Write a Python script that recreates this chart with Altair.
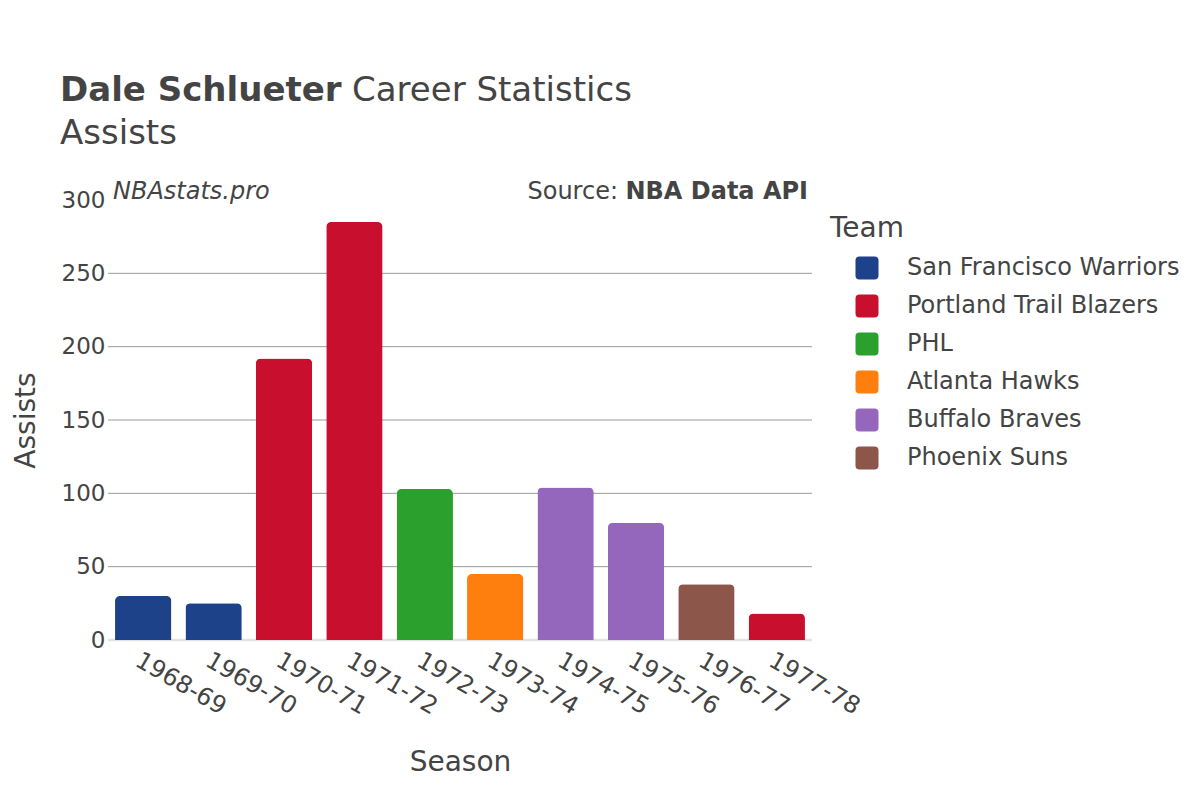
import altair as alt
import pandas as pd

seasons = ["1968-69", "1969-70", "1970-71", "1971-72", "1972-73",
           "1973-74", "1974-75", "1975-76", "1976-77", "1977-78"]
teams = ["San Francisco Warriors", "San Francisco Warriors", "Portland Trail Blazers",
         "Portland Trail Blazers", "PHL", "Atlanta Hawks", "Buffalo Braves",
         "Buffalo Braves", "Phoenix Suns", "Portland Trail Blazers"]
assists = [30, 25, 192, 285, 103, 45, 104, 80, 38, 18]

team_order = ["San Francisco Warriors", "Portland Trail Blazers", "PHL",
              "Atlanta Hawks", "Buffalo Braves", "Phoenix Suns"]
team_colors = ["#1d428a", "#c8102e", "#2ca02c", "#ff7f0e", "#9467bd", "#8c564b"]

y_ticks = [0, 50, 100, 150, 200, 250, 300]
grid_values = [50, 100, 150, 200, 250]

FONT = "DejaVu Sans"
TXT = "#444444"

df = pd.DataFrame({"Season": seasons, "Team": teams, "Assists": assists})
grid_df = pd.DataFrame({"v": grid_values})
zero_df = pd.DataFrame({"v": [0]})

W, H = 704, 440

grid = alt.Chart(grid_df).mark_rule(color="#999999", strokeWidth=1).encode(
    y=alt.Y("v:Q", scale=alt.Scale(domain=[0, 300]))
)
zero = alt.Chart(zero_df).mark_rule(color="#e3e3e3", strokeWidth=2.5).encode(
    y=alt.Y("v:Q", scale=alt.Scale(domain=[0, 300]))
)

bars = alt.Chart(df).mark_bar(cornerRadiusTopLeft=5, cornerRadiusTopRight=5).encode(
    x=alt.X("Season:N", sort=seasons,
            scale=alt.Scale(paddingInner=0.2, paddingOuter=0.1),
            axis=alt.Axis(title="Season", labelAngle=30, labelAlign="left",
                          labelBaseline="top", labelPadding=8, ticks=False,
                          domain=False, labelFontSize=24, labelColor=TXT,
                          labelFont=FONT, titleFont=FONT, titleFontSize=28,
                          titleColor=TXT, titleFontWeight="normal",
                          titleX=352, titleY=130, titleBaseline="alphabetic",
                          titleAnchor="middle", titleAlign="center")),
    y=alt.Y("Assists:Q", scale=alt.Scale(domain=[0, 300]),
            axis=alt.Axis(title="Assists", values=y_ticks, grid=False, ticks=False,
                          domain=False, labelFontSize=23, labelColor=TXT,
                          labelFont=FONT, labelPadding=3, titleFont=FONT,
                          titleFontSize=28, titleColor=TXT,
                          titleFontWeight="normal", titleAngle=-90,
                          titleX=-74, titleY=220, titleBaseline="alphabetic",
                          titleAlign="center")),
    color=alt.Color("Team:N",
                    scale=alt.Scale(domain=team_order, range=team_colors),
                    legend=alt.Legend(
                        title=None, orient="none", legendX=747, legendY=56,
                        padding=0,
                        symbolType="M -0.65 -1 L 0.65 -1 Q 1 -1 1 -0.65 L 1 0.65 Q 1 1 0.65 1 L -0.65 1 Q -1 1 -1 0.65 L -1 -0.65 Q -1 -1 -0.65 -1 Z",
                        symbolSize=529, symbolStrokeWidth=0, symbolOpacity=1,
                        labelFontSize=24, labelFont=FONT, labelColor=TXT,
                        labelOffset=28, rowPadding=14, labelLimit=400)),
)

def txt(s, x, y, size, weight="normal", style="normal", align="left"):
    return alt.Chart(pd.DataFrame({"t": [s]})).mark_text(
        font=FONT, fontSize=size, fontWeight=weight, fontStyle=style,
        color=TXT, align=align, baseline="alphabetic"
    ).encode(text="t:N", x=alt.value(x), y=alt.value(y))

texts = [
    txt("Dale Schlueter", -48, -99, 34, weight="bold"),
    txt("Career Statistics", 244, -99, 34),
    txt("Assists", -48, -56, 34),
    txt("NBAstats.pro", 5, -1, 24, style="italic"),
    txt("NBA Data API", 700, -1, 24, weight="bold", align="right"),
    txt("Source:", 510, -1, 24, align="right"),
    txt("Team", 722, 37, 28),
]

chart = alt.layer(grid, zero, bars, *texts).properties(
    width=W, height=H,
    autosize=alt.AutoSizeParams(type="none"),
    padding={"left": 100, "top": 192, "right": 380, "bottom": 152},
).configure_view(stroke=None)

chart.save("out.html", embed_options={"renderer": "svg", "actions": False})
